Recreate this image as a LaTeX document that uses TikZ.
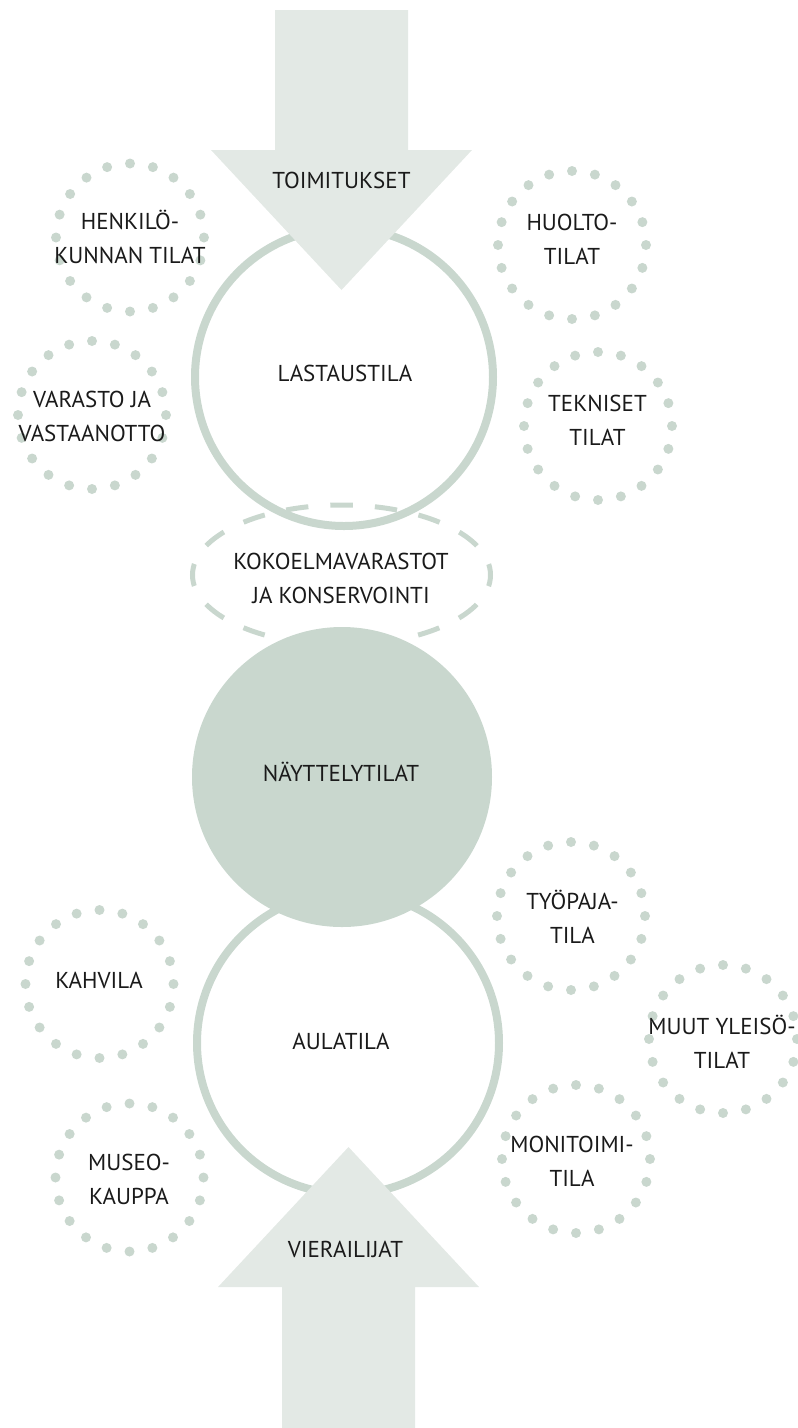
\documentclass[tikz,border=0pt]{standalone}
\usepackage{fontspec}
\setmainfont{PT Sans}
\definecolor{ringc}{HTML}{C9D7CE}
\definecolor{arrowc}{HTML}{E3E9E5}
\definecolor{txtc}{HTML}{1A1A1A}
\tikzset{
  lbl/.style={font=\fontsize{23}{34}\selectfont, text=txtc, align=center, inner sep=0pt},
  ringnode/.style={circle, draw=ringc, line width=8pt, inner sep=0pt},
  fullnode/.style={circle, fill=ringc, inner sep=0pt},
  arrowfill/.style={fill=arrowc},
  dashring/.style={draw=ringc, line width=5pt, dash pattern=on 22.4pt off 22pt, dash phase=11.2pt},
  dotfill/.style={fill=ringc}
}
\begin{document}
\begin{tikzpicture}[x=1pt,y=1pt]
\useasboundingbox (0,0) rectangle (798,-1428);
% main rings
\node[ringnode, minimum size=298pt] (lastaus) at (344,-377) {};
\node[ringnode, minimum size=302pt] (aula) at (348,-1043) {};
% dashed ellipse (collections)
\draw[dashring] (341.5,-505) arc[start angle=90, end angle=450, x radius=149, y radius=70];
% filled exhibition circle
\node[fullnode, minimum size=300pt] (nayttely) at (342,-777) {};
% arrows
\fill[arrowfill] (275,-10) -- (408,-10) -- (408,-150) -- (472,-150) -- (341.5,-290) -- (211,-150) -- (275,-150) -- cycle;
\fill[arrowfill] (282,-1428) -- (415,-1428) -- (415,-1287) -- (479,-1287) -- (348.5,-1147) -- (218,-1287) -- (282,-1287) -- cycle;
% dotted rings
\foreach \cx/\cy in {130/237.5, 572/245, 92/415, 598/426, 571/916, 99.5/984, 723/1039, 576/1159, 129.5/1177.5}{
  \foreach \a in {0,18,...,342}{
    \fill[dotfill] ({\cx+74*cos(\a+90)},{-\cy+74*sin(\a+90)}) circle[radius=5];
  }
}
% labels
\node[lbl] (toimitukset) at (341.5,-180) {TOIMITUKSET};
\node[lbl] (lastaustxt) at (345,-373) {LASTAUSTILA};
\node[lbl] (kokoelma) at (341,-578) {KOKOELMAVARASTOT\\JA KONSERVOINTI};
\node[lbl] (nayttelytxt) at (341,-772) {NÄYTTELYTILAT};
\node[lbl] (aulatxt) at (341,-1041) {AULATILA};
\node[lbl] (vierailijat) at (345.5,-1249) {VIERAILIJAT};
\node[lbl] (henkilo) at (130,-237) {HENKILÖ-\\KUNNAN TILAT};
\node[lbl] (huolto) at (572,-239) {HUOLTO-\\TILAT};
\node[lbl] (varasto) at (92,-416) {VARASTO JA\\VASTAANOTTO};
\node[lbl] (tekniset) at (597.5,-420) {TEKNISET\\TILAT};
\node[lbl] (tyopaja) at (572.5,-917) {TYÖPAJA-\\TILA};
\node[lbl] (kahvila) at (99,-980.5) {KAHVILA};
\node[lbl] (muut) at (722,-1042) {MUUT YLEISÖ-\\TILAT};
\node[lbl] (monitoimi) at (572,-1161) {MONITOIMI-\\TILA};
\node[lbl] (museo) at (129,-1179) {MUSEO-\\KAUPPA};
\end{tikzpicture}
\end{document}
